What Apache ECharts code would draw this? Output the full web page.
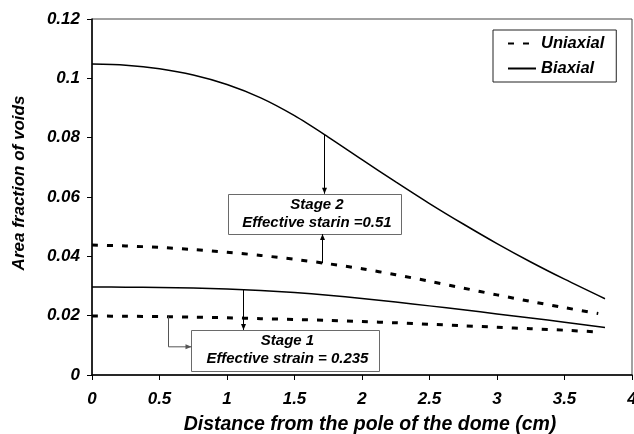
<!DOCTYPE html>
<html>
<head>
<meta charset="utf-8">
<script src="https://cdn.jsdelivr.net/npm/echarts@6/dist/echarts.min.js"></script>
<style>
  html, body { margin: 0; padding: 0; background: #fff; }
  #chart { width: 634px; height: 434px; }
</style>
</head>
<body>
<div id="chart"></div>
<script>
// Distance from the pole of the dome (cm)
const distSolid = [0, 0.25, 0.5, 0.75, 1, 1.25, 1.5, 1.75, 2, 2.25, 2.5, 2.75, 3, 3.25, 3.5, 3.8];
const distDashed = [0, 0.25, 0.5, 0.75, 1, 1.25, 1.5, 1.75, 2, 2.25, 2.5, 2.75, 3, 3.25, 3.5, 3.75];

// Area fraction of voids, stage 2 (effective strain 0.51)
const biaxialStage2 = [0.1048, 0.1044, 0.1032, 0.1011, 0.0979, 0.0934, 0.0874, 0.0802, 0.0726, 0.0651, 0.0578, 0.0509, 0.0443, 0.0381, 0.0323, 0.0257];
const uniaxialStage2 = [0.0438, 0.0435, 0.0430, 0.0423, 0.0414, 0.0403, 0.0390, 0.0375, 0.0358, 0.0338, 0.0316, 0.0293, 0.0270, 0.0248, 0.0227, 0.0207];

// Area fraction of voids, stage 1 (effective strain 0.235)
const biaxialStage1 = [0.0297, 0.0296, 0.0295, 0.0293, 0.0290, 0.0285, 0.0278, 0.0269, 0.0258, 0.0246, 0.0233, 0.0220, 0.0206, 0.0192, 0.0178, 0.0160];
const uniaxialStage1 = [0.0199, 0.0198, 0.0197, 0.0195, 0.0193, 0.0190, 0.0187, 0.0184, 0.0180, 0.0176, 0.0171, 0.0166, 0.0161, 0.0156, 0.0151, 0.0145];

const xTicks = [0, 0.5, 1, 1.5, 2, 2.5, 3, 3.5, 4];
const yTicks = [0, 0.02, 0.04, 0.06, 0.08, 0.1, 0.12];

const FONT = '"Liberation Sans", Arial, sans-serif';

const pairs = (xs, ys) => xs.map((x, i) => [x, ys[i]]);

const solidStyle = { color: '#000', width: 1.5, type: 'solid' };
const dashedStyle = { color: '#000', width: 3, type: [6, 9] };

function lineSeries(name, xs, ys, style) {
  return {
    name: name,
    type: 'line',
    data: pairs(xs, ys),
    smooth: 0.3,
    symbol: 'none',
    lineStyle: style,
    itemStyle: { color: '#000' },
    silent: true
  };
}

const chart = echarts.init(document.getElementById('chart'), null, { renderer: 'canvas' });

chart.setOption({
  animation: false,
  backgroundColor: '#fff',
  textStyle: { fontFamily: FONT },
  grid: {
    left: 92, right: 2, top: 19, bottom: 59,
    outerBoundsMode: 'none',
    containLabel: false,
    show: true, borderColor: '#444', borderWidth: 1, backgroundColor: 'transparent'
  },
  legend: {
    data: ['Uniaxial', 'Biaxial'],
    orient: 'vertical',
    left: 493, top: 30,
    padding: [5, 12, 5, 14],
    itemGap: 8,
    itemWidth: 28,
    itemHeight: 12,
    borderColor: '#222',
    borderWidth: 1,
    backgroundColor: '#fff',
    selectedMode: false,
    itemStyle: { opacity: 0 },
    textStyle: { fontFamily: FONT, fontSize: 16.5, fontWeight: 'bold', fontStyle: 'italic', color: '#000' }
  },
  xAxis: {
    type: 'value',
    min: 0, max: 4, interval: 0.5,
    name: 'Distance from the pole of the dome (cm)',
    nameLocation: 'middle',
    nameGap: 40,
    nameTextStyle: { fontFamily: FONT, fontSize: 19.5, fontWeight: 'bold', fontStyle: 'italic', color: '#000', padding: [0, 0, 0, 16] },
    axisLine: { lineStyle: { color: '#000', width: 1.5 } },
    axisTick: { show: true, inside: false, length: 5, lineStyle: { color: '#000', width: 1 } },
    axisLabel: {
      margin: 16, color: '#000', fontFamily: FONT, fontSize: 17, fontWeight: 'bold', fontStyle: 'italic',
      customValues: xTicks, formatter: v => String(v)
    },
    splitLine: { show: false }
  },
  yAxis: {
    type: 'value',
    min: 0, max: 0.12, interval: 0.02,
    name: 'Area fraction of voids',
    nameLocation: 'middle',
    nameGap: 64,
    nameTextStyle: { fontFamily: FONT, fontSize: 17, fontWeight: 'bold', fontStyle: 'italic', color: '#000', padding: [0, 0, 0, 28] },
    axisLine: { show: true, lineStyle: { color: '#000', width: 1.5 } },
    axisTick: { show: true, inside: false, length: 5, lineStyle: { color: '#000', width: 1 } },
    axisLabel: {
      margin: 12, color: '#000', fontFamily: FONT, fontSize: 17, fontWeight: 'bold', fontStyle: 'italic',
      customValues: yTicks, formatter: v => String(+v.toFixed(2))
    },
    splitLine: { show: false }
  },
  series: [
    lineSeries('Biaxial', distSolid, biaxialStage2, solidStyle),
    lineSeries('Uniaxial', distDashed, uniaxialStage2, dashedStyle),
    lineSeries('Biaxial', distSolid, biaxialStage1, solidStyle),
    lineSeries('Uniaxial', distDashed, uniaxialStage1, dashedStyle)
  ]
});

// Callout boxes and arrows, placed in data coordinates
const callouts = [
  { lines: ['Stage 2', 'Effective starin =0.51'], box: [1.005, 0.0611, 2.287, 0.0475] },
  { lines: ['Stage 1', 'Effective strain = 0.235'], box: [0.731, 0.0152, 2.126, 0.0015] }
];
const arrows = [
  { pts: [[1.72, 0.0810], [1.72, 0.0611]] },
  { pts: [[1.70, 0.0377], [1.70, 0.0475]] },
  { pts: [[1.12, 0.0288], [1.12, 0.0152]] },
  // elbow arrow from the lower dashed curve into the stage 1 box
  { pts: [[0.56, 0.0197], [0.56, 0.0095], [0.731, 0.0095]], color: '#555' }
];

function px(p) { return chart.convertToPixel({ gridIndex: 0 }, p); }

const graphics = [];
callouts.forEach(c => {
  const a = px([c.box[0], c.box[1]]);
  const b = px([c.box[2], c.box[3]]);
  const x = Math.round(a[0]) + 0.5, y = Math.round(a[1]) + 0.5;
  const w = Math.round(b[0] - a[0]), h = Math.round(b[1] - a[1]);
  graphics.push({
    type: 'rect', shape: { x: x, y: y, width: w, height: h },
    style: { fill: '#fff', stroke: '#6a6a6a', lineWidth: 1 }, z: 10
  });
  c.lines.forEach((t, i) => {
    graphics.push({
      type: 'text', z: 11,
      x: x + w / 2 + 2, y: y + h * (i === 0 ? 0.25 : 0.70),
      style: {
        text: t, fill: '#000', align: 'center', verticalAlign: 'middle',
        font: 'italic bold 15px ' + FONT
      }
    });
  });
});

arrows.forEach(ar => {
  const p = ar.pts.map(px).map(q => [Math.round(q[0]) + 0.5, q[1]]);
  const col = ar.color || '#000';
  graphics.push({
    type: 'polyline', z: 12, shape: { points: p },
    style: { stroke: col, lineWidth: 1, fill: null }
  });
  const e = p[p.length - 1], s = p[p.length - 2];
  const dx = e[0] - s[0], dy = e[1] - s[1];
  const len = Math.hypot(dx, dy) || 1;
  const ux = dx / len, uy = dy / len;
  const L = 6, W = 2.5;
  graphics.push({
    type: 'polygon', z: 12,
    shape: { points: [
      [e[0], e[1]],
      [e[0] - ux * L - uy * W, e[1] - uy * L + ux * W],
      [e[0] - ux * L + uy * W, e[1] - uy * L - ux * W]
    ] },
    style: { fill: col, stroke: null }
  });
});

chart.setOption({ graphic: graphics });
</script>
</body>
</html>
